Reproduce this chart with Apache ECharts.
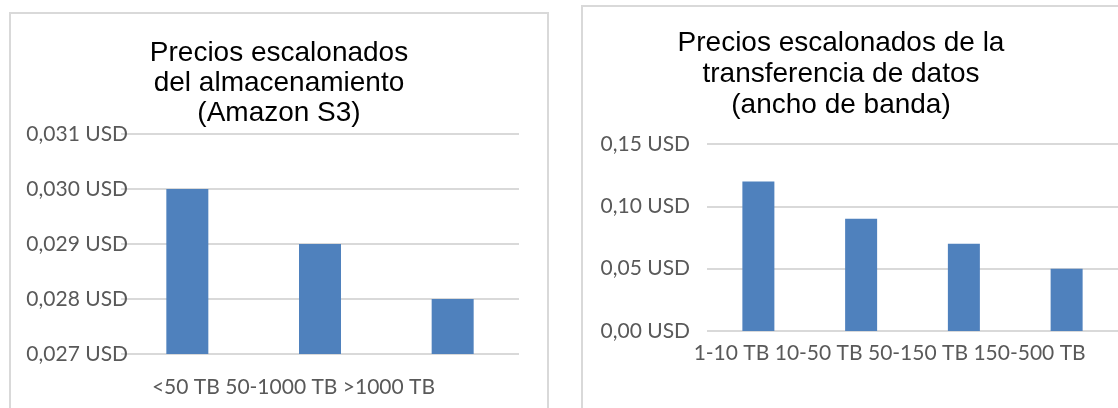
<!DOCTYPE html>
<html>
<head>
<meta charset="utf-8">
<script src="https://cdn.jsdelivr.net/npm/echarts@6/dist/echarts.min.js"></script>
<style>
  html, body { margin: 0; padding: 0; background: #fff; }
  #chart { width: 1118px; height: 408px; }
</style>
</head>
<body>
<div id="chart"></div>
<script>
  // almacenamiento S3
  const storageTitle = ['Precios escalonados', 'del almacenamiento', '(Amazon S3)'];
  const storageTiers = ['<50 TB', '50-1000 TB', '>1000 TB'];
  const storagePrices = [0.030, 0.029, 0.028];
  const storageTicks = { min: 0.027, max: 0.031, step: 0.001, digits: 3 };

  // transferencia de datos
  const transferTitle = ['Precios escalonados de la', 'transferencia de datos', '(ancho de banda)'];
  const transferTiers = ['1-10 TB', '10-50 TB', '50-150 TB', '150-500 TB'];
  const transferPrices = [0.12, 0.09, 0.07, 0.05];
  const transferTicks = { min: 0, max: 0.15, step: 0.05, digits: 2 };

  const BAR = '#4F81BD';
  const GRID_LINE = '#d9d9d9';
  const labelFont = { fontFamily: 'Lato', fontSize: 21, color: '#595959' };

  const chart = echarts.init(document.getElementById('chart'), null, { renderer: 'canvas' });

  const usd = (digits) => (v) => v.toFixed(digits).replace('.', ',') + ' USD';

  function yAxisFor(gridIndex, t, margin) {
    return {
      type: 'value',
      gridIndex,
      min: t.min,
      max: t.max,
      interval: t.step,
      axisLine: { show: false },
      axisTick: { show: false },
      axisLabel: { ...labelFont, margin, formatter: usd(t.digits) },
      splitLine: { lineStyle: { color: GRID_LINE, width: 2 } },
    };
  }

  // Excel packed the tier labels into one line, so draw them as one string
  function xAxisFor(gridIndex, tiers, anchor, padding, margin) {
    return {
      type: 'category',
      gridIndex,
      data: tiers,
      axisLine: { show: false },
      axisTick: { show: false },
      axisLabel: {
        ...labelFont,
        interval: 0,
        margin,
        lineHeight: 22,
        padding,
        formatter: (v, i) => (i === anchor ? tiers.join(' ') : ''),
      },
    };
  }

  chart.setOption({
    animation: false,
    title: [
      {
        text: storageTitle.join('\n'),
        left: 279, top: 38, textAlign: 'center', padding: 0,
        textStyle: { fontFamily: 'Liberation Sans', fontSize: 28, fontWeight: 'normal', color: '#000', lineHeight: 30 },
      },
      {
        text: transferTitle.join('\n'),
        left: 841, top: 28, textAlign: 'center', padding: 0,
        textStyle: { fontFamily: 'Liberation Sans', fontSize: 28, fontWeight: 'normal', color: '#000', lineHeight: 31 },
      },
    ],
    graphic: [
      { type: 'rect', shape: { x: 10, y: 13, width: 538, height: 420 }, style: { fill: 'none', stroke: GRID_LINE, lineWidth: 2 }, silent: true },
      { type: 'rect', shape: { x: 582, y: 6, width: 560, height: 420 }, style: { fill: 'none', stroke: GRID_LINE, lineWidth: 2 }, silent: true },
    ],
    grid: [
      { left: 121, top: 134, width: 398, height: 220 },
      { left: 707, top: 144, width: 411, height: 187 },
    ],
    xAxis: [
      xAxisFor(0, storageTiers, 1, [0, 53, 0, 0], 22),
      xAxisFor(1, transferTiers, 1, [0, 0, 0, 57], 11),
    ],
    yAxis: [
      yAxisFor(0, storageTicks, -7),
      yAxisFor(1, transferTicks, 17),
    ],
    series: [
      {
        type: 'bar', xAxisIndex: 0, yAxisIndex: 0,
        data: storagePrices, barWidth: 42,
        itemStyle: { color: BAR },
      },
      {
        type: 'bar', xAxisIndex: 1, yAxisIndex: 1,
        data: transferPrices, barWidth: 32,
        itemStyle: { color: BAR },
      },
    ],
  });
</script>
</body>
</html>
